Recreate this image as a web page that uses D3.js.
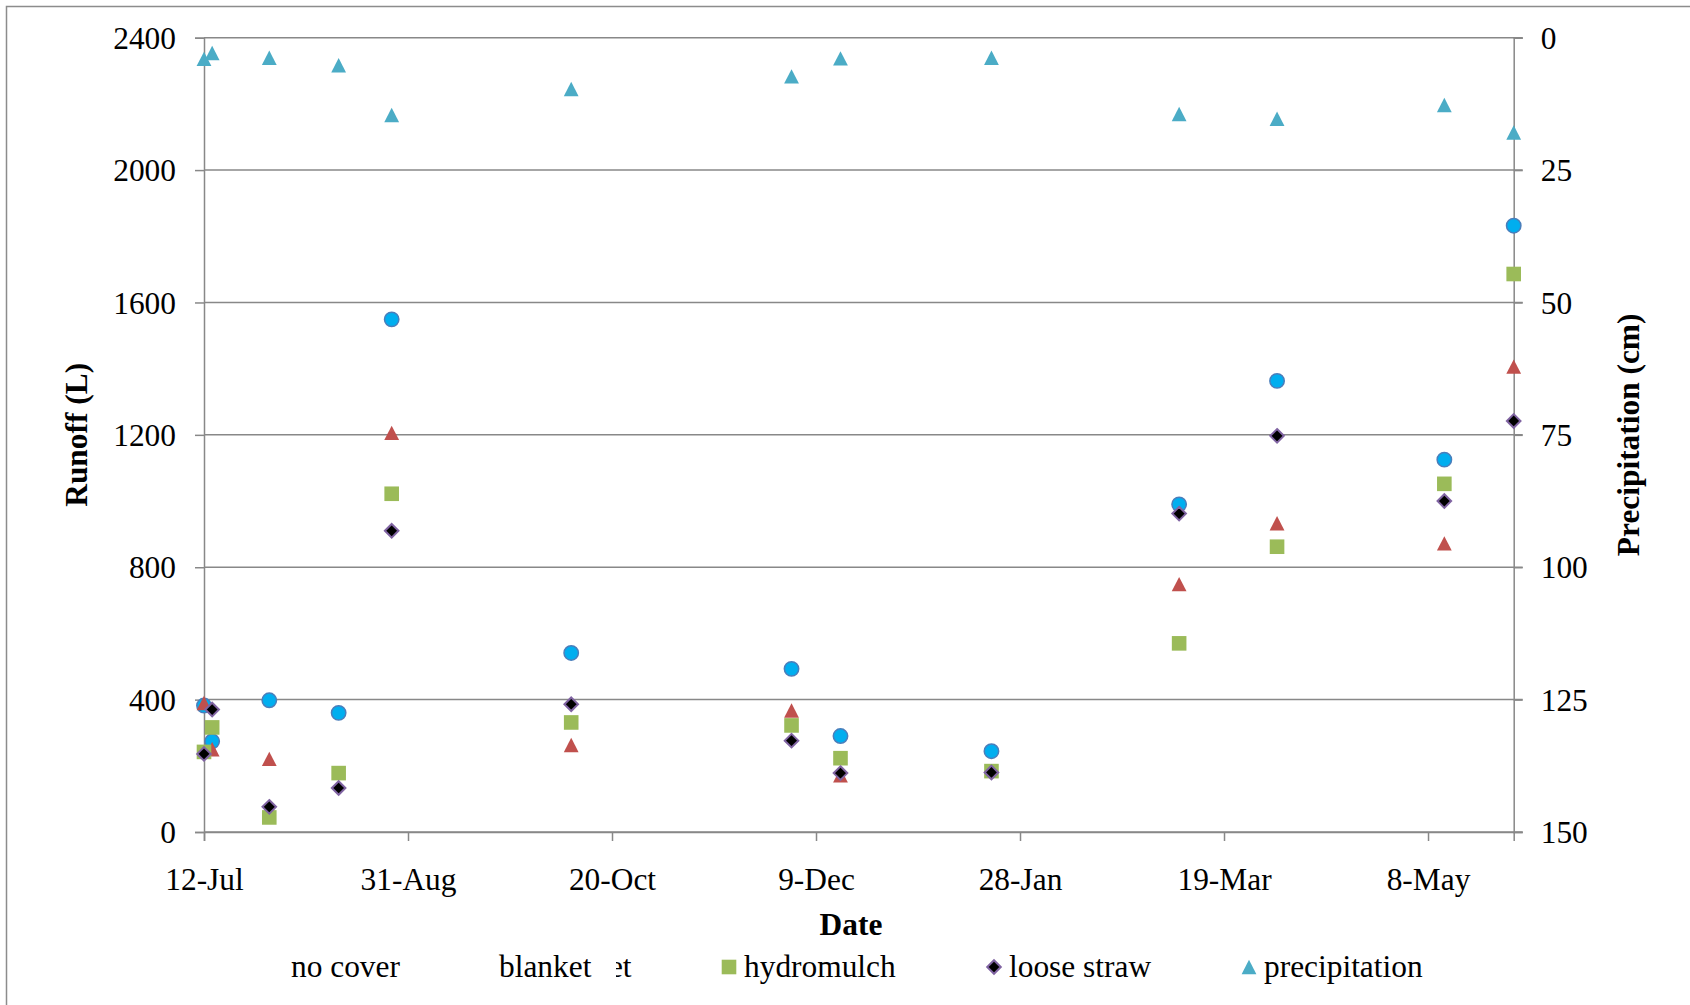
<!DOCTYPE html>
<html>
<head>
<meta charset="utf-8">
<script src="https://cdn.jsdelivr.net/npm/d3@7"></script>
<style>
  html, body { margin: 0; padding: 0; background: #fff; }
  svg { display: block; }
  text { font-family: "Liberation Serif", "Times New Roman", serif; fill: #000; }
</style>
</head>
<body>
<script>
// Sampling dates (runoff events) and measured values
const dates = ["2010-07-12", "2010-07-14", "2010-07-28", "2010-08-14", "2010-08-27",
  "2010-10-10", "2010-12-03", "2010-12-15", "2011-01-21", "2011-03-08",
  "2011-04-01", "2011-05-12", "2011-05-29"];
const noCover     = [382, 274, 398, 360, 1549, 541, 493, 290, 244, 990, 1363, 1125, 1832];
const blanket     = [390, 250, 221, null, 1206, 263, 367, 171, null, 749, 933, 872, 1406];
const hydromulch  = [242, 316, 44, 178, 1022, 331, 322, 223, 184, 570, 862, 1052, 1686];
const looseStraw  = [236, 370, 76, 133, 910, 386, 276, 178, 180, 962, 1197, 1000, 1242];
const precipitation = [4.0, 2.9, 3.8, 5.2, 14.6, 9.7, 7.3, 3.9, 3.8, 14.4, 15.3, 12.7, 17.9];

// Axis ticks
const xTickDates = ["2010-07-12", "2010-08-31", "2010-10-20", "2010-12-09", "2011-01-28", "2011-03-19", "2011-05-08"];
const xDomain = ["2010-07-12", "2011-05-29"];
const runoffTicks = [0, 400, 800, 1200, 1600, 2000, 2400];
const precipTicks = [0, 25, 50, 75, 100, 125, 150];

const W = 1690, H = 1005;
const plot = { left: 204, right: 1513.7, top: 37.7, bottom: 832 };
const gridColor = "#888888";
const fontSize = 31.4;

const parse = d3.utcParse("%Y-%m-%d");
const fmt = d3.utcFormat("%-d-%b");

const x = d3.scaleUtc().domain(xDomain.map(parse)).range([plot.left, plot.right]);
const yL = d3.scaleLinear().domain([0, 2400]).range([plot.bottom, plot.top]);
const yR = d3.scaleLinear().domain([0, 150]).range([plot.top, plot.bottom]);

const svg = d3.select("body").append("svg").attr("width", W).attr("height", H);

// Chart frame
svg.append("rect").attr("x", 6.5).attr("y", 6.5).attr("width", W + 20).attr("height", H + 20)
  .attr("fill", "#fff").attr("stroke", "#8c8c8c").attr("stroke-width", 1.5);

// Left axis with gridlines
const gLeft = svg.append("g").attr("transform", `translate(${plot.left},0)`)
  .call(d3.axisLeft(yL).tickValues(runoffTicks).tickFormat(d3.format("d")).tickSize(9).tickPadding(19));
gLeft.select(".domain").attr("stroke", gridColor).attr("stroke-width", 1.5);
gLeft.selectAll(".tick line").attr("stroke", gridColor).attr("stroke-width", 1.5);
gLeft.selectAll(".tick text").attr("font-size", fontSize).attr("font-family", "Liberation Serif").attr("dy", "0.34em");

svg.append("g").selectAll("line").data(runoffTicks.filter(d => d > 0)).join("line")
  .attr("x1", plot.left).attr("x2", plot.right + 9)
  .attr("y1", d => yL(d)).attr("y2", d => yL(d))
  .attr("stroke", gridColor).attr("stroke-width", 1.5);

// Right axis (precipitation, inverted)
const gRight = svg.append("g").attr("transform", `translate(${plot.right},0)`)
  .call(d3.axisRight(yR).tickValues(precipTicks).tickFormat(d3.format("d")).tickSize(9).tickPadding(18));
gRight.select(".domain").attr("stroke", gridColor).attr("stroke-width", 1.5);
gRight.selectAll(".tick line").attr("stroke", gridColor).attr("stroke-width", 1.5);
gRight.selectAll(".tick text").attr("font-size", fontSize).attr("font-family", "Liberation Serif").attr("dy", "0.34em");

// Bottom date axis
const gBottom = svg.append("g").attr("transform", `translate(0,${plot.bottom})`)
  .call(d3.axisBottom(x).tickValues(xTickDates.map(parse)).tickFormat(fmt).tickSize(9).tickPadding(27));
gBottom.select(".domain").attr("stroke", gridColor).attr("stroke-width", 1.5);
gBottom.selectAll(".tick line").attr("stroke", gridColor).attr("stroke-width", 1.5);
gBottom.selectAll(".tick text").attr("font-size", fontSize).attr("font-family", "Liberation Serif").attr("dy", "0.71em");
svg.append("line").attr("x1", plot.left).attr("x2", plot.right + 9)
  .attr("y1", plot.bottom).attr("y2", plot.bottom)
  .attr("stroke", gridColor).attr("stroke-width", 1.5);

// Axis titles
svg.append("text").attr("transform", `translate(76,${(plot.top + plot.bottom) / 2}) rotate(-90)`)
  .attr("text-anchor", "middle").attr("dominant-baseline", "central")
  .attr("font-size", fontSize).attr("font-weight", "bold").text("Runoff (L)");
svg.append("text").attr("transform", `translate(1628,${(plot.top + plot.bottom) / 2}) rotate(-90)`)
  .attr("text-anchor", "middle").attr("dominant-baseline", "central")
  .attr("font-size", fontSize).attr("font-weight", "bold").text("Precipitation (cm)");
svg.append("text").attr("x", 851).attr("y", 935).attr("text-anchor", "middle")
  .attr("font-size", fontSize).attr("font-weight", "bold").text("Date");

// Marker shapes
const tri = "M0,-7.2L7.4,7.2L-7.4,7.2Z";
const diamond = "M0,-6.8L6.8,0L0,6.8L-6.8,0Z";
const markers = {
  circle: g => g.append("circle").attr("r", 7.2).attr("fill", "#00AEEF").attr("stroke", "#4A7EBB").attr("stroke-width", 1.5),
  redTri: g => g.append("path").attr("d", tri).attr("fill", "#C0504D"),
  square: g => g.append("rect").attr("x", -7.3).attr("y", -7.3).attr("width", 14.6).attr("height", 14.6).attr("fill", "#9BBB59"),
  diamond: g => g.append("path").attr("d", diamond).attr("fill", "#000").attr("stroke", "#8064A2").attr("stroke-width", 2),
  blueTri: g => g.append("path").attr("d", tri).attr("fill", "#4BACC6")
};

const series = [
  { values: noCover, y: yL, shape: "circle" },
  { values: blanket, y: yL, shape: "redTri" },
  { values: hydromulch, y: yL, shape: "square" },
  { values: looseStraw, y: yL, shape: "diamond" },
  { values: precipitation, y: yR, shape: "blueTri" }
];

series.forEach(s => {
  const pts = dates.map((d, i) => ({ date: parse(d), v: s.values[i] })).filter(p => p.v != null);
  svg.append("g").selectAll("g").data(pts).join("g")
    .attr("transform", p => `translate(${x(p.date)},${s.y(p.v)})`)
    .each(function () { markers[s.shape](d3.select(this)); });
});

// Legend
const legendY = 977;
const legend = svg.append("g");
legend.append("text").attr("x", 291).attr("y", legendY).attr("font-size", fontSize).text("no cover");
legend.append("text").attr("x", 499).attr("y", legendY).attr("font-size", fontSize).text("blanket");
const clip = svg.append("defs").append("clipPath").attr("id", "fragClip");
clip.append("rect").attr("x", 616).attr("y", 940).attr("width", 40).attr("height", 60);
legend.append("text").attr("x", 631.6).attr("y", legendY).attr("text-anchor", "end")
  .attr("font-size", fontSize).attr("clip-path", "url(#fragClip)").text("et");

const legendItems = [
  { label: "hydromulch", shape: "square", cx: 729 },
  { label: "loose straw", shape: "diamond", cx: 994 },
  { label: "precipitation", shape: "blueTri", cx: 1249 }
];
legendItems.forEach(it => {
  const g = legend.append("g").attr("transform", `translate(${it.cx},${legendY - 10})`);
  markers[it.shape](g);
  legend.append("text").attr("x", it.cx + 15).attr("y", legendY).attr("font-size", fontSize).text(it.label);
});
</script>
</body>
</html>
